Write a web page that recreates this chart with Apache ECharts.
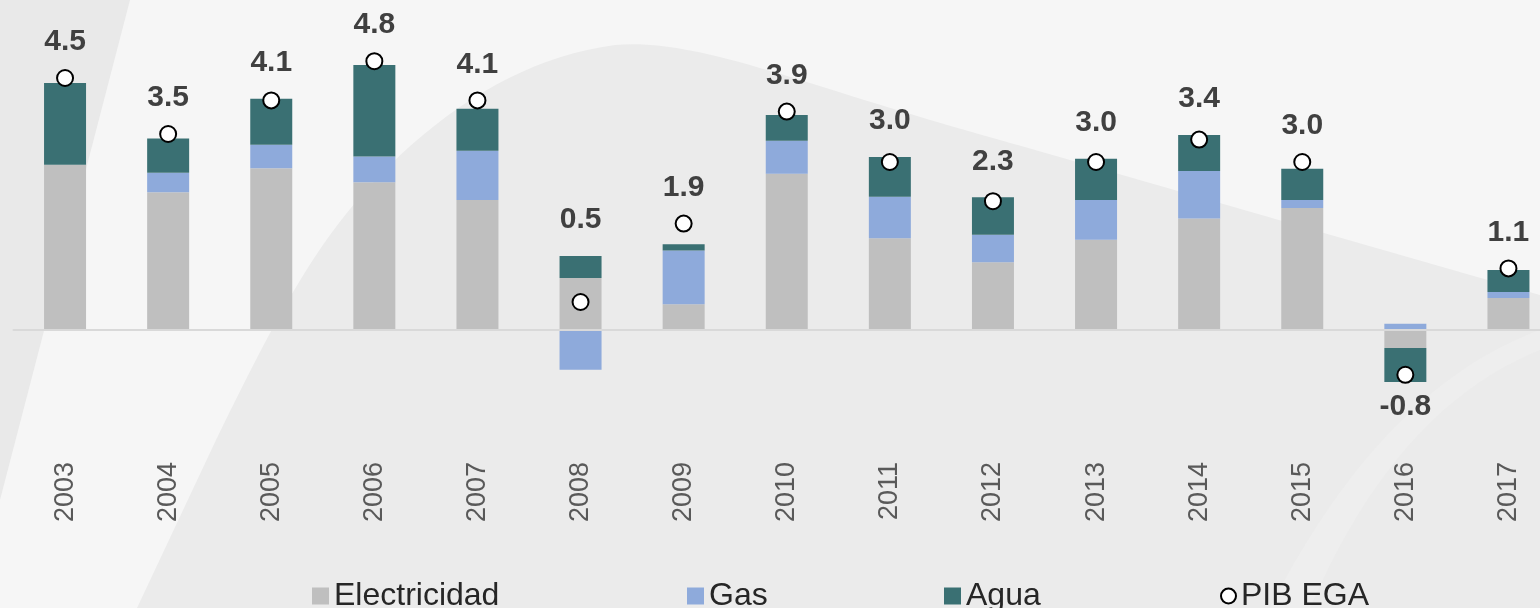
<!DOCTYPE html>
<html>
<head>
<meta charset="utf-8">
<script src="https://cdn.jsdelivr.net/npm/echarts@6/dist/echarts.min.js"></script>
<style>
  html, body { margin: 0; padding: 0; overflow: hidden; }
  body {
    width: 1540px;
    height: 608px;
    background: #f6f6f6 url("data:image/svg+xml;utf8,<svg xmlns='http://www.w3.org/2000/svg' width='1540' height='608'><polygon points='0,0 130,0 0,500' fill='%23e9e9e9'/><path d='M137 608 L216 440 C250 370 290 290 330 235 C400 140 500 60 615 45 C700 38 800 85 1000 140 L1540 295 L1540 608 Z' fill='%23ebebeb'/><path d='M1270 608 C1340 470 1430 370 1540 330 L1540 350 C1440 390 1365 480 1310 608 Z' fill='%23eeeeee'/></svg>") no-repeat;
  }
  #chart { width: 1540px; height: 608px; }
</style>
</head>
<body>
<div id="chart"></div>
<script>
const years = ['2003', '2004', '2005', '2006', '2007', '2008', '2009', '2010',
  '2011', '2012', '2013', '2014', '2015', '2016', '2017']
const electricidad = [2.95, 2.46, 2.89, 2.64, 2.32, 0.93, 0.46, 2.79, 1.64, 1.21, 1.61, 1.99, 2.18, -0.32, 0.57]
const gas = [0, 0.35, 0.42, 0.46, 0.88, -0.71, 0.96, 0.59, 0.74, 0.49, 0.71, 0.85, 0.14, 0.11, 0.11]
const agua = [1.46, 0.61, 0.82, 1.63, 0.75, 0.39, 0.11, 0.46, 0.71, 0.67, 0.74, 0.64, 0.56, -0.61, 0.39]
const pibEga = [4.5, 3.5, 4.1, 4.8, 4.1, 0.5, 1.9, 3.9, 3.0, 2.3, 3.0, 3.4, 3.0, -0.8, 1.1]

const FONT = '"Liberation Sans", Arial, sans-serif'

// label sits above the taller of the stack / the point (below for negatives)
const labelAnchors = years.map((_, i) => {
  const parts = [electricidad[i], gas[i], agua[i]]
  const pos = parts.filter((v) => v > 0).reduce((a, b) => a + b, 0)
  const neg = parts.filter((v) => v < 0).reduce((a, b) => a + b, 0)
  const p = pibEga[i]
  if (p >= 0) return { value: Math.max(p, pos) }
  return { value: Math.min(p, neg), label: { position: 'bottom', distance: 10 } }
})

const chart = echarts.init(document.getElementById('chart'))

const barSeries = (name, data, color) => ({
  name,
  type: 'bar',
  stack: 'total',
  barWidth: 42,
  itemStyle: { color },
  data,
})

const legendItem = (name, left, icon, size) => ({
  data: [{ name, icon }],
  left,
  top: 575,
  itemWidth: size,
  itemHeight: size,
  textStyle: { fontFamily: FONT, fontSize: 32, color: '#262626' },
})

chart.setOption({
  animation: false,
  backgroundColor: 'transparent',
  grid: { left: 13.5, right: -20, top: 22, bottom: 166, outerBoundsMode: 'none', containLabel: false },
  legend: [
    legendItem('Electricidad', 307, 'rect', 17),
    legendItem('Gas', 682, 'rect', 17),
    legendItem('Agua', 939, 'rect', 17),
    legendItem('PIB EGA', 1215, 'circle', 15),
  ],
  xAxis: {
    type: 'category',
    data: years,
    z: 3,
    axisLine: { onZero: true, lineStyle: { color: '#d9d9d9', width: 2 } },
    axisTick: { show: false },
    axisLabel: {
      rotate: 90,
      margin: 20,
      fontFamily: FONT,
      fontSize: 27,
      color: '#595959',
    },
  },
  yAxis: {
    type: 'value',
    min: -2,
    max: 5.5,
    interval: 0.5,
    show: false,
    splitLine: { show: false },
  },
  series: [
    barSeries('Electricidad', electricidad, '#bfbfbf'),
    barSeries('Gas', gas, '#8eaadb'),
    barSeries('Agua', agua, '#3a7073'),
    {
      name: 'PIB EGA',
      type: 'scatter',
      z: 4,
      symbol: 'circle',
      symbolSize: 16,
      itemStyle: { color: '#ffffff', borderColor: '#000000', borderWidth: 2, opacity: 1 },
      data: pibEga,
    },
    {
      name: 'etiquetas',
      type: 'scatter',
      z: 5,
      silent: true,
      symbolSize: 0,
      itemStyle: { color: 'transparent', opacity: 1 },
      label: {
        show: true,
        position: 'top',
        distance: 21,
        fontFamily: FONT,
        fontSize: 30,
        fontWeight: 'bold',
        color: '#404040',
        formatter: (p) => pibEga[p.dataIndex].toFixed(1),
      },
      data: labelAnchors,
    },
  ],
})
</script>
</body>
</html>
